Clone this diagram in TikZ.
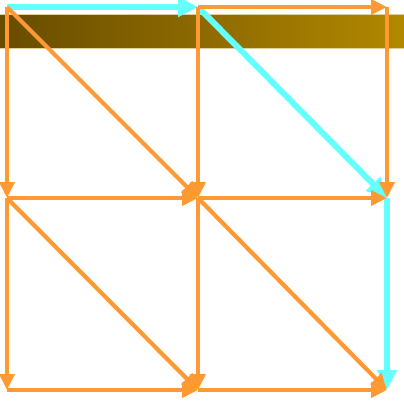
\documentclass[tikz,border=0pt]{standalone}
\usepackage{xcolor}
\usepackage{tikz}
\usetikzlibrary{arrows.meta}

\definecolor{edgeorange}{RGB}{255,153,51}
\definecolor{pathcyan}{RGB}{102,255,255}
\definecolor{barleft}{RGB}{104,76,0}
\definecolor{barright}{RGB}{178,136,0}

\begin{document}
\begin{tikzpicture}[x=1pt, y=-1pt,
    edge/.style={edgeorange, line width=4.2pt, -{Triangle[length=16pt, width=15pt]}},
    best/.style={pathcyan, line width=6pt, -{Triangle[length=20pt, width=19pt]}}]
    \useasboundingbox (0,0) rectangle (404,405);

    % header bar
    \shade[left color=barleft, right color=barright] (0,14) rectangle (404,48);
    \draw[barright!40, line width=0.8pt] (0,14) -- (404,14) (0,48) -- (404,48);

    % grid points
    \coordinate (a1) at (7,7);   \coordinate (a2) at (198,7);   \coordinate (a3) at (387,7);
    \coordinate (b1) at (7,198); \coordinate (b2) at (198,198); \coordinate (b3) at (387,198);
    \coordinate (c1) at (7,390); \coordinate (c2) at (198,390); \coordinate (c3) at (387,390);

    % highlighted path
    \draw[best] (a1) -- (a2);
    \draw[best] (a2) -- (b3);
    \draw[best] (b3) -- (c3);

    % horizontal edges
    \draw[edge] (a2) -- (a3);
    \draw[edge] (b1) -- (b2);
    \draw[edge] (b2) -- (b3);
    \draw[edge] (c1) -- (c2);
    \draw[edge] (c2) -- (c3);

    % vertical edges
    \draw[edge] (a1) -- (b1);
    \draw[edge] (a2) -- (b2);
    \draw[edge] (a3) -- (b3);
    \draw[edge] (b1) -- (c1);
    \draw[edge] (b2) -- (c2);

    % diagonal edges
    \draw[edge] (a1) -- (b2);
    \draw[edge] (b1) -- (c2);
    \draw[edge] (b2) -- (c3);
\end{tikzpicture}
\end{document}
